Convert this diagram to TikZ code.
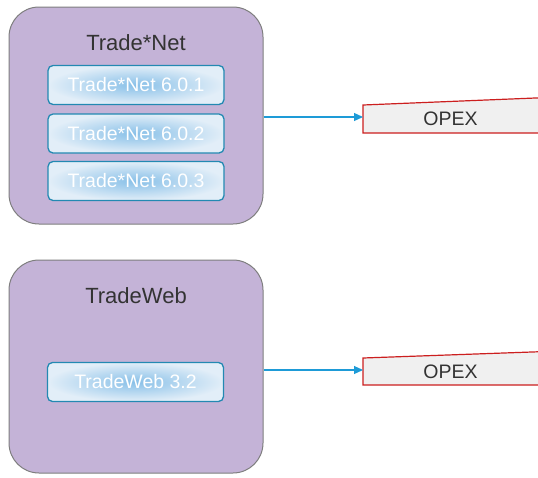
\documentclass[tikz,border=0pt]{standalone}
\usepackage{fontspec}
\setmainfont{Liberation Sans}
\usetikzlibrary{arrows.meta}
\definecolor{grpfill}{HTML}{C4B3D7}
\definecolor{grpline}{HTML}{7E7E7E}
\definecolor{verline}{HTML}{2389B2}
\definecolor{verin}{HTML}{88C0E8}
\definecolor{verout}{HTML}{E2EEF8}
\definecolor{opexfill}{HTML}{F0F0F0}
\definecolor{opexline}{HTML}{CC1F1F}
\definecolor{arrowcol}{HTML}{1E9BD7}
\definecolor{txt}{HTML}{333333}
\begin{document}
\begin{tikzpicture}[x=1pt,y=-1pt,
  group/.style={draw=grpline, line width=1pt, fill=grpfill, rounded corners=30pt, minimum width=254pt},
  grptitle/.style={anchor=base, text=txt, font=\fontsize{22}{24}\selectfont, inner sep=0pt},
  version/.style={draw=verline, line width=1.3pt, rounded corners=5pt, shading=radial, inner color=verin, outer color=verout,
     minimum width=176pt, minimum height=39pt, text=white, font=\fontsize{19.5}{22}\selectfont, inner sep=0pt},
  opexshape/.style={draw=opexline, line width=1.2pt, fill=opexfill},
  opextext/.style={anchor=base, text=txt, font=\fontsize{19.5}{22}\selectfont, inner sep=0pt},
  flow/.style={draw=arrowcol, line width=1.2pt, -{Triangle[length=9pt,width=8pt]}}]
\useasboundingbox (0,0) rectangle (538,477);
\clip (0,0) rectangle (538,477);
% group 1
\node[group, minimum height=217pt] (g1) at (136,115.5) {};
\node[grptitle] (t1) at (136,50) {Trade*Net};
\node[version] (v1) at (136,85) {Trade*Net 6.0.1};
\node[version] (v2) at (136,133.5) {Trade*Net 6.0.2};
\node[version] (v3) at (136,181) {Trade*Net 6.0.3};
% group 2
\node[group, minimum height=213pt] (g2) at (136,366.5) {};
\node[grptitle] (t2) at (136,303) {TradeWeb};
\node[version] (v4) at (135.5,382) {TradeWeb 3.2};
% OPEX 1
\draw[opexshape] (363,133) -- (363,105) -- (560,97) -- (560,133) -- cycle;
\coordinate (o1) at (363,117);
\node[opextext] (x1) at (450.5,125) {OPEX};
% OPEX 2
\draw[opexshape] (363,385) -- (363,358) -- (560,351) -- (560,385) -- cycle;
\coordinate (o2) at (363,370);
\node[opextext] (x2) at (450.5,378) {OPEX};
% connectors
\draw[flow] (g1.east |- o1) -- (o1);
\draw[flow] (g2.east |- o2) -- (o2);
\end{tikzpicture}
\end{document}
